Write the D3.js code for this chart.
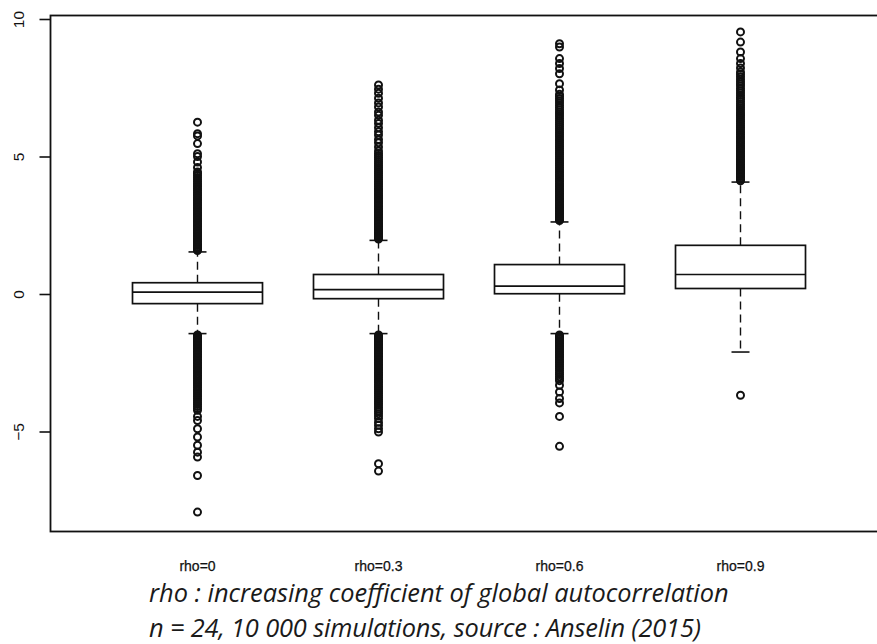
<!DOCTYPE html>
<html>
<head>
<meta charset="utf-8">
<script src="https://cdn.jsdelivr.net/npm/d3@7"></script>
<style>
  html, body { margin: 0; padding: 0; background: #fff; }
  svg { display: block; }
</style>
</head>
<body>
<svg id="chart" width="877" height="644"></svg>
<script>
// Box summaries per autocorrelation level
const categories = ["rho=0", "rho=0.3", "rho=0.6", "rho=0.9"];
const q1 = [-0.35, -0.17, 0.01, 0.20];
const medians = [0.07, 0.16, 0.29, 0.71];
const q3 = [0.41, 0.71, 1.07, 1.77];
const whiskerLow = [-1.44, -1.44, -1.44, -2.11];
const whiskerHigh = [1.53, 1.95, 2.62, 4.07];
const yTicks = [-5, 0, 5, 10];

// Outlying simulated values, one list per level
const outliersRho0 = [
  1.58,1.62,1.67,1.71,1.76,1.80,1.85,1.91,1.96,2.01,2.07,2.12,2.18,2.23,2.29,2.34,2.40,2.46,2.51,2.57,
  2.63,2.68,2.74,2.80,2.86,2.91,2.97,3.03,3.09,3.15,3.21,3.27,3.33,3.39,3.45,3.51,3.58,3.64,3.70,3.77,
  3.83,3.90,3.96,4.03,4.10,4.17,4.24,4.31,4.38,4.44,4.60,4.80,5.00,5.10,5.47,5.75,5.83,6.25,
  -1.49,-1.53,-1.58,-1.62,-1.67,-1.72,-1.77,-1.82,-1.87,-1.93,-1.98,-2.03,-2.09,-2.14,-2.20,-2.25,
  -2.31,-2.37,-2.42,-2.48,-2.54,-2.60,-2.66,-2.72,-2.78,-2.84,-2.90,-2.96,-3.02,-3.08,-3.15,-3.21,
  -3.27,-3.34,-3.40,-3.47,-3.53,-3.60,-3.67,-3.74,-3.81,-3.88,-3.95,-4.02,-4.09,-4.16,-4.23,
  -4.45,-4.60,-4.90,-5.20,-5.50,-5.75,-5.93,-6.60,-7.93
];
const outliersRho03 = [
  2.00,2.05,2.09,2.14,2.19,2.24,2.29,2.34,2.39,2.45,2.50,2.55,2.61,2.66,2.72,2.77,2.83,2.88,2.94,3.00,
  3.05,3.11,3.17,3.23,3.29,3.35,3.41,3.47,3.53,3.59,3.65,3.72,3.78,3.84,3.91,3.97,4.04,4.10,4.17,4.24,
  4.31,4.38,4.45,4.52,4.59,4.66,4.74,4.81,4.89,4.96,5.04,5.11,5.20,5.35,5.50,5.62,5.78,5.90,6.05,6.20,
  6.32,6.50,6.62,6.80,6.95,7.12,7.30,7.45,7.60,
  -1.49,-1.54,-1.58,-1.63,-1.68,-1.73,-1.78,-1.83,-1.88,-1.94,-1.99,-2.04,-2.10,-2.15,-2.21,-2.26,
  -2.32,-2.38,-2.43,-2.49,-2.55,-2.61,-2.67,-2.73,-2.79,-2.85,-2.91,-2.97,-3.03,-3.10,-3.16,-3.22,
  -3.29,-3.35,-3.42,-3.48,-3.55,-3.62,-3.69,-3.76,-3.83,-3.90,-3.97,-4.04,-4.12,-4.19,-4.27,-4.35,
  -4.44,-4.53,-4.66,-4.77,-4.90,-5.02,-6.17,-6.44
];
const outliersRho06 = [
  2.67,2.72,2.77,2.82,2.87,2.93,2.98,3.03,3.09,3.14,3.20,3.25,3.31,3.37,3.42,3.48,3.54,3.60,3.66,3.72,
  3.78,3.84,3.90,3.96,4.02,4.09,4.15,4.21,4.28,4.34,4.41,4.47,4.54,4.60,4.67,4.74,4.80,4.87,4.94,5.01,
  5.08,5.15,5.22,5.29,5.36,5.43,5.50,5.57,5.64,5.72,5.79,5.86,5.94,6.01,6.09,6.16,6.24,6.31,6.39,6.47,
  6.55,6.62,6.70,6.78,6.86,6.95,7.03,7.11,7.19,7.26,7.42,7.65,8.01,8.20,8.38,8.56,8.98,9.10,
  -1.49,-1.54,-1.59,-1.64,-1.69,-1.74,-1.79,-1.85,-1.90,-1.96,-2.01,-2.07,-2.13,-2.19,-2.25,-2.31,
  -2.37,-2.44,-2.50,-2.57,-2.64,-2.71,-2.78,-2.86,-2.93,-3.01,-3.08,-3.15,-3.32,-3.56,-3.80,-3.96,
  -4.45,-5.54
];
const outliersRho09 = [
  4.12,4.17,4.22,4.27,4.32,4.38,4.43,4.48,4.54,4.59,4.65,4.70,4.76,4.82,4.87,4.93,4.99,5.05,5.11,5.17,
  5.23,5.29,5.35,5.41,5.48,5.54,5.60,5.67,5.73,5.80,5.86,5.93,6.00,6.06,6.13,6.20,6.27,6.34,6.41,6.48,
  6.55,6.62,6.70,6.77,6.85,6.92,7.00,7.08,7.15,7.23,7.31,7.39,7.47,7.56,7.64,7.72,7.81,7.90,7.99,
  8.07,8.22,8.38,8.56,8.80,9.16,9.53,
  -3.68
];
const outliers = [outliersRho0, outliersRho03, outliersRho06, outliersRho09];

const captionLines = [
  "rho : increasing coefficient of global autocorrelation",
  "n = 24, 10 000 simulations, source : Anselin (2015)"
];

const svg = d3.select("#chart");

// Plot frame (right edge runs past the page)
const frame = { left: 50.5, top: 15.5, right: 884, bottom: 531.5 };

const y = d3.scaleLinear().domain([-5, 10]).range([431.5, 19]);
const x = d3.scalePoint().domain(categories).range([197.5, 740.5]);
const boxWidth = 130;
const capWidth = 18;

svg.append("rect")
  .attr("x", frame.left).attr("y", frame.top)
  .attr("width", frame.right - frame.left)
  .attr("height", frame.bottom - frame.top)
  .attr("fill", "none").attr("stroke", "#111").attr("stroke-width", 1.8);

// Y axis
const yAxis = d3.axisLeft(y).tickValues(yTicks).tickSize(11).tickPadding(0).tickFormat(d3.format("d"));
const ya = svg.append("g").attr("transform", `translate(${frame.left},0)`).call(yAxis);
ya.select(".domain").remove();
ya.selectAll(".tick line").attr("stroke", "#111").attr("stroke-width", 1.6);
ya.selectAll(".tick text")
  .attr("x", null).attr("dy", null)
  .attr("transform", "translate(-32,0) rotate(-90)")
  .attr("text-anchor", "middle")
  .attr("dominant-baseline", "central")
  .attr("font-family", "'Liberation Sans', Arial, sans-serif")
  .attr("font-size", 15.5)
  .attr("fill", "#111");

const boxes = categories.map((c, i) => ({
  c, q1: q1[i], med: medians[i], q3: q3[i], lo: whiskerLow[i], hi: whiskerHigh[i], out: outliers[i]
}));

const g = svg.append("g").attr("stroke", "#111").attr("fill", "none");

const bx = g.selectAll("g.box").data(boxes).join("g").attr("class", "box");

// Whiskers
bx.append("line")
  .attr("x1", d => x(d.c)).attr("x2", d => x(d.c))
  .attr("y1", d => y(d.q3)).attr("y2", d => y(d.hi))
  .attr("stroke-width", 1.4).attr("stroke-dasharray", "8,5");
bx.append("line")
  .attr("x1", d => x(d.c)).attr("x2", d => x(d.c))
  .attr("y1", d => y(d.q1)).attr("y2", d => y(d.lo))
  .attr("stroke-width", 1.4).attr("stroke-dasharray", "8,5");
// Caps
bx.append("line")
  .attr("x1", d => x(d.c) - capWidth / 2).attr("x2", d => x(d.c) + capWidth / 2)
  .attr("y1", d => y(d.hi)).attr("y2", d => y(d.hi)).attr("stroke-width", 1.6);
bx.append("line")
  .attr("x1", d => x(d.c) - capWidth / 2).attr("x2", d => x(d.c) + capWidth / 2)
  .attr("y1", d => y(d.lo)).attr("y2", d => y(d.lo)).attr("stroke-width", 1.6);
// Box
bx.append("rect")
  .attr("x", d => x(d.c) - boxWidth / 2).attr("width", boxWidth)
  .attr("y", d => y(d.q3)).attr("height", d => y(d.q1) - y(d.q3))
  .attr("fill", "#fff").attr("stroke-width", 1.7);
// Median
bx.append("line")
  .attr("x1", d => x(d.c) - boxWidth / 2).attr("x2", d => x(d.c) + boxWidth / 2)
  .attr("y1", d => y(d.med)).attr("y2", d => y(d.med)).attr("stroke-width", 1.7);
// Outlier points
bx.selectAll("circle").data(d => d.out.map(v => ({ c: d.c, v }))).join("circle")
  .attr("cx", d => x(d.c)).attr("cy", d => y(d.v))
  .attr("r", 3.5).attr("stroke-width", 2.0);

// Caption: two italic lines under the plot, stacked up from the page bottom
const cap = svg.append("g");
const capTexts = captionLines.map(t =>
  cap.append("text")
    .attr("x", 149).attr("y", 0)
    .attr("font-family", "'Open Sans', Lato, sans-serif")
    .attr("font-style", "italic")
    .attr("font-size", 22)
    .attr("fill", "#1a1a1a")
    .text(t)
);
const w0 = capTexts[0].node().getComputedTextLength();
const fs = 22 * 580 / w0;
capTexts.forEach(t => t.attr("font-size", fs));
capTexts[1].attr("textLength", 552).attr("lengthAdjust", "spacing");

const b2 = capTexts[1].node().getBBox();            // box relative to baseline 0
const base2 = 643.5 - (b2.y + b2.height);
capTexts[1].attr("y", base2);
const b1 = capTexts[0].node().getBBox();
const base1 = Math.min(606, base2 + b2.y - 0.5 - (b1.y + b1.height));
capTexts[0].attr("y", base1);
const line1Top = base1 + b1.y;

// X category labels, sitting just above the caption
const lbl = svg.append("g").selectAll("text").data(categories).join("text")
  .attr("x", d => x(d))
  .attr("y", 0)
  .attr("text-anchor", "middle")
  .attr("font-family", "'Liberation Sans', Arial, sans-serif")
  .attr("font-size", 14)
  .attr("fill", "#111")
  .attr("stroke", "#111")
  .attr("stroke-width", 0.25)
  .text(d => d);
const lb = lbl.node().getBBox();
lbl.attr("y", Math.min(577, line1Top - 1 - (lb.y + lb.height)));
</script>
</body>
</html>
